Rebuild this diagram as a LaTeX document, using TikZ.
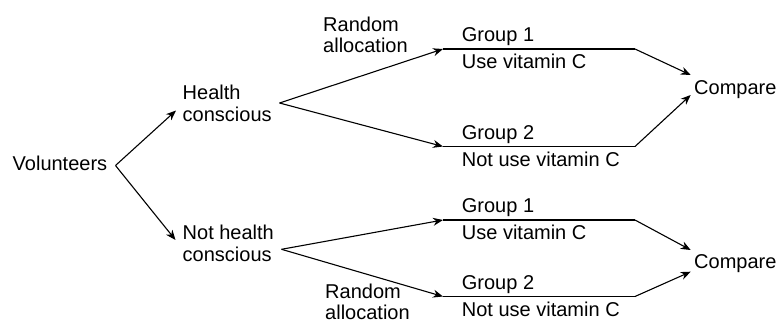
\documentclass[tikz,border=0pt]{standalone}
\usepackage{fontspec}
\setmainfont{Liberation Sans}
\usetikzlibrary{positioning, arrows.meta}
\tikzset{
  % Tree of the trial design
  treetext/.style  = { font=\fontsize{20}{21.5}\selectfont, inner sep=0pt,
                       align=left },
  grouptext/.style = { font=\fontsize{20}{21.5}\selectfont, inner sep=0pt },
  treeflow/.style  = { line width=1.1pt, -{Stealth[length=10pt, width=8pt]} },
  groupbar/.style  = { line width=1.1pt }
}

\begin{document}
\begin{tikzpicture}[x=1pt, y=1pt]
  \useasboundingbox (0,0) rectangle (779,322);

  % first split
  \node[treetext, anchor=base west] (vol) at (12.5,152) {Volunteers};
  \coordinate (volsplit) at (115.5,156.5);

  \node[treetext, anchor=north west] (health) at (182.5,237) {Health\\conscious};
  \node[treetext, anchor=north west] (nothealth) at (182.5,97) {Not health\\conscious};
  \coordinate (healthin) at (176,211.5);
  \coordinate (nothealthin) at (175.5,82);
  \coordinate (healthsplit) at (279.5,219);
  \coordinate (nothealthsplit) at (281.5,72.7);

  \node[treetext, anchor=north west] (alloctop) at (323,305.3) {Random\\allocation};
  \node[treetext, anchor=north west] (allocbot) at (325,38.5) {Random\\allocation};

  % group bars
  \coordinate (hcgone) at (443,273);
  \coordinate (hcgoneend) at (635,273);
  \coordinate (hcgtwo) at (443,175.5);
  \coordinate (hcgtwoend) at (635,175.5);
  \coordinate (nhgone) at (443,102);
  \coordinate (nhgoneend) at (635,102);
  \coordinate (nhgtwo) at (443,25.5);
  \coordinate (nhgtwoend) at (635,25.5);

  \node[grouptext, above right=7.5pt and 18.7pt of hcgone, anchor=base west] (hcgonetop) {Group 1};
  \node[grouptext, below right=5pt and 18.7pt of hcgone, anchor=north west] (hcgonebot) {Use vitamin C};
  \node[grouptext, above right=7.5pt and 18.7pt of hcgtwo, anchor=base west] (hcgtwotop) {Group 2};
  \node[grouptext, below right=5pt and 18.7pt of hcgtwo, anchor=north west] (hcgtwobot) {Not use vitamin C};
  \node[grouptext, above right=7.5pt and 18.7pt of nhgone, anchor=base west] (nhgonetop) {Group 1};
  \node[grouptext, below right=5pt and 18.7pt of nhgone, anchor=north west] (nhgonebot) {Use vitamin C};
  \node[grouptext, above right=7.5pt and 18.7pt of nhgtwo, anchor=base west] (nhgtwotop) {Group 2};
  \node[grouptext, below right=5pt and 18.7pt of nhgtwo, anchor=north west] (nhgtwobot) {Not use vitamin C};

  % comparisons
  \node[grouptext, anchor=base west] (cmptop) at (694,227) {Compare};
  \node[grouptext, anchor=base west] (cmpbot) at (694,53.7) {Compare};
  \coordinate (cmptopin1) at (690.7,247);
  \coordinate (cmptopin2) at (690.7,227);
  \coordinate (cmpbotin1) at (690.7,72);
  \coordinate (cmpbotin2) at (690.7,50.3);

  \draw[treeflow] (volsplit) -- (healthin);
  \draw[treeflow] (volsplit) -- (nothealthin);
  \draw[treeflow] (healthsplit) -- (hcgone);
  \draw[treeflow] (healthsplit) -- (hcgtwo);
  \draw[treeflow] (nothealthsplit) -- (nhgone);
  \draw[treeflow] (nothealthsplit) -- (nhgtwo);

  \draw[groupbar] (hcgone) -- (hcgoneend);
  \draw[groupbar] (hcgtwo) -- (hcgtwoend);
  \draw[groupbar] (nhgone) -- (nhgoneend);
  \draw[groupbar] (nhgtwo) -- (nhgtwoend);

  \draw[treeflow] (hcgoneend) -- (cmptopin1);
  \draw[treeflow] (hcgtwoend) -- (cmptopin2);
  \draw[treeflow] (nhgoneend) -- (cmpbotin1);
  \draw[treeflow] (nhgtwoend) -- (cmpbotin2);

\end{tikzpicture}
\end{document}
